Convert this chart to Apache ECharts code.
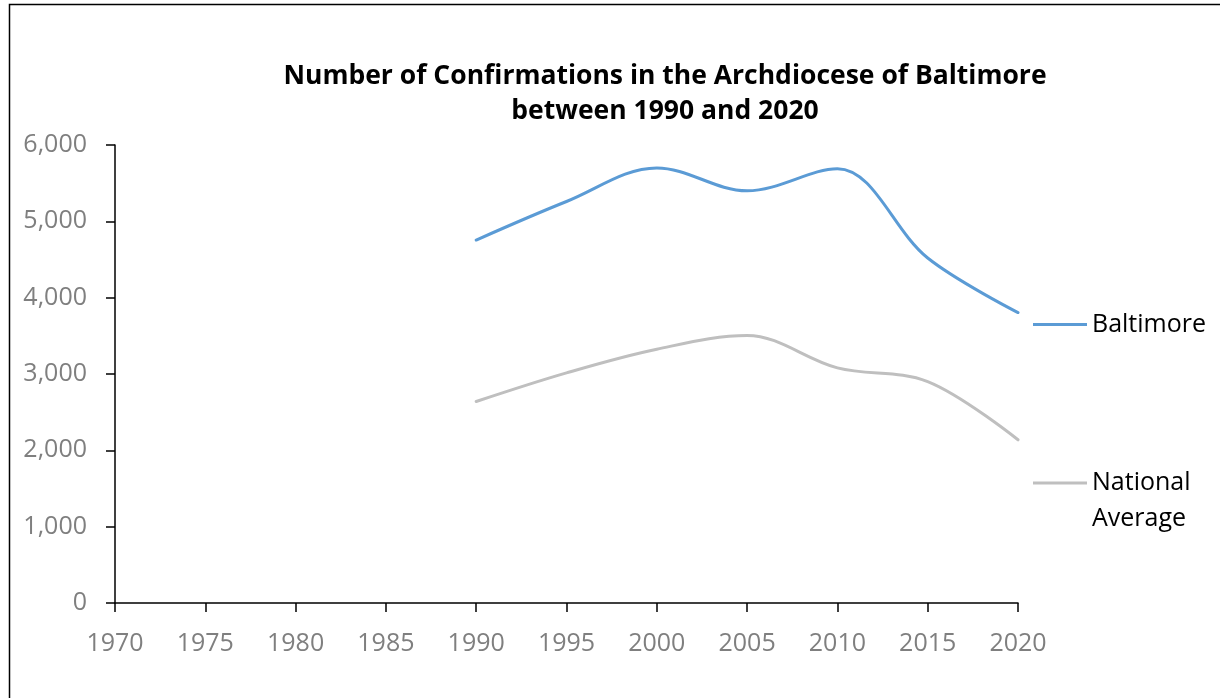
<!DOCTYPE html>
<html>
<head>
<meta charset="utf-8">
<script src="https://cdn.jsdelivr.net/npm/echarts@6/dist/echarts.min.js"></script>
<style>
  html, body { margin: 0; padding: 0; background: #fff; }
  #chart { width: 1220px; height: 698px; }
</style>
</head>
<body>
<div id="chart"></div>
<script>
// values
const years = [1990, 1995, 2000, 2005, 2010, 2015, 2020]
const baltimore = [4755, 5260, 5700, 5400, 5690, 4520, 3805]
const nationalAverage = [2640, 3015, 3325, 3505, 3080, 2900, 2138]

const fontFamily = '"Open Sans", "Noto Sans", sans-serif'
const labelColor = '#7f7f7f'

const chart = echarts.init(document.getElementById('chart'), null, { renderer: 'canvas' })

const toPairs = (vals) => years.map((y, i) => [y, vals[i]])

chart.setOption({
  backgroundColor: '#fff',
  animation: false,
  title: {
    text: 'Number of Confirmations in the Archdiocese of Baltimore\nbetween 1990 and 2020',
    left: 660,
    textAlign: 'center',
    top: 54,
    textStyle: {
      fontFamily: fontFamily,
      fontSize: 26.5,
      fontWeight: 'bold',
      color: '#000',
      lineHeight: 35
    }
  },
  graphic: [{
    type: 'rect',
    left: 7,
    top: 2,
    shape: { width: 1400, height: 900 },
    style: { fill: 'none', stroke: '#000', lineWidth: 1.5 },
    silent: true
  }],
  legend: [{
    data: ['Baltimore'],
    icon: 'rect',
    left: 1028,
    top: 307,
    itemWidth: 54,
    itemHeight: 3,
    textStyle: { fontFamily: fontFamily, fontSize: 25, color: '#000' }
  }, {
    data: ['National Average'],
    icon: 'rect',
    left: 1028,
    top: 424,
    itemWidth: 54,
    itemHeight: 3,
    // blank first line keeps the icon level with "National"
    formatter: () => '\nNational\nAverage',
    textStyle: {
      fontFamily: fontFamily,
      fontSize: 25,
      lineHeight: 36,
      color: '#000'
    }
  }],
  grid: {
    left: 115,
    right: 202,
    top: 145,
    bottom: 95
  },
  xAxis: {
    type: 'value',
    min: 1970,
    max: 2020,
    interval: 5,
    splitLine: { show: false },
    axisLine: { lineStyle: { color: '#000', width: 1.5 } },
    axisTick: { show: true, length: 9, lineStyle: { color: '#000', width: 1.5 } },
    axisLabel: {
      margin: 28,
      color: labelColor,
      fontFamily: fontFamily,
      fontSize: 25,
      formatter: (v) => String(v)
    }
  },
  yAxis: {
    type: 'value',
    min: 0,
    max: 6000,
    interval: 1000,
    splitLine: { show: false },
    axisLine: { show: true, lineStyle: { color: '#000', width: 1.5 } },
    axisTick: { show: true, length: 9, lineStyle: { color: '#000', width: 1.5 } },
    axisLabel: {
      margin: 28,
      color: labelColor,
      fontFamily: fontFamily,
      fontSize: 25,
      formatter: (v) => v.toLocaleString('en-US')
    }
  },
  series: [{
    name: 'Baltimore',
    type: 'line',
    smooth: 0.35,
    symbol: 'none',
    data: toPairs(baltimore),
    itemStyle: { color: '#5b9bd5' },
    lineStyle: { color: '#5b9bd5', width: 3, cap: 'round' }
  }, {
    name: 'National Average',
    type: 'line',
    smooth: 0.35,
    symbol: 'none',
    data: toPairs(nationalAverage),
    itemStyle: { color: '#bfbfbf' },
    lineStyle: { color: '#bfbfbf', width: 3, cap: 'round' }
  }]
})
</script>
</body>
</html>
